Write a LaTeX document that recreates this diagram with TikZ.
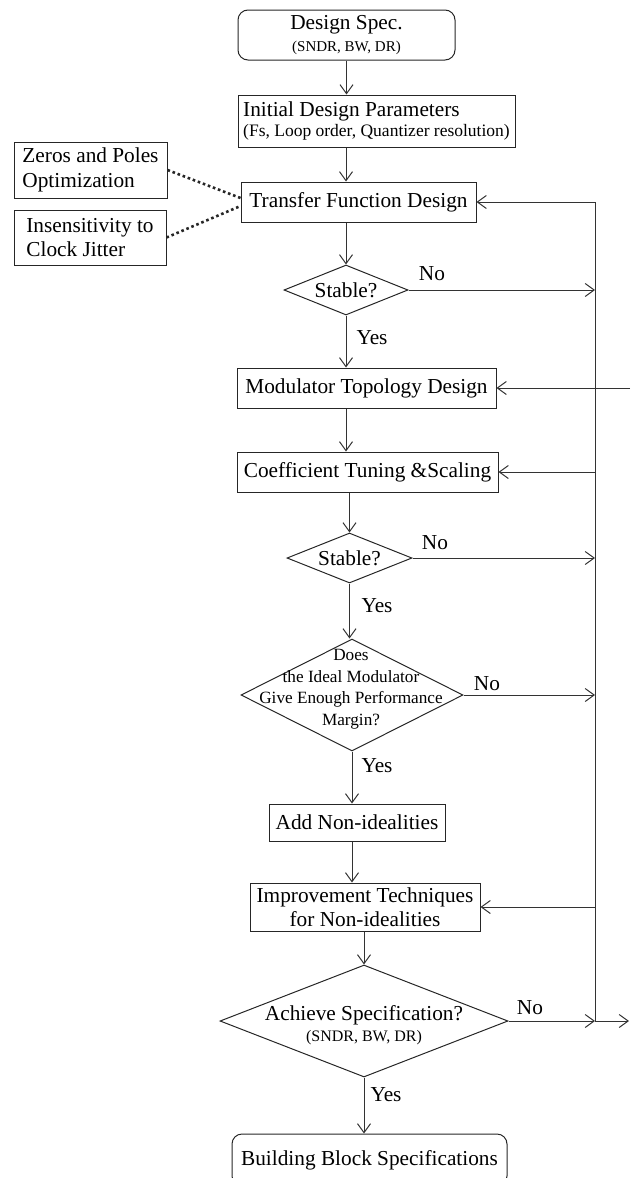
\documentclass[tikz,border=0pt]{standalone}
\usepackage{fontspec}
\setmainfont{Liberation Serif}
\usetikzlibrary{arrows.meta,shapes.geometric,calc}
\begin{document}
\begin{tikzpicture}[x=1pt,y=-1pt,
  every node/.style={font=\fontsize{21.3}{24.5}\selectfont, text=black},
  box/.style={draw=black!85, line width=1pt, inner sep=0pt, align=center},
  dia/.style={draw=black!85, line width=1pt, diamond, inner sep=0pt},
  conn/.style={draw=black!80, line width=1pt},
  arr/.style={conn, -{Straight Barb[length=9pt,width=13pt,line width=1pt]}},
  dots/.style={draw=black!85, line width=2.6pt, dash pattern=on 2.6pt off 2.8pt},
  lbl/.style={inner sep=0pt}
]
\useasboundingbox (0,0) rectangle (630,1178);
\clip (0,0) rectangle (630,1178);

% boxes
\node[box, rounded corners=10pt, minimum width=217pt, minimum height=50pt] (spec) at (346.5,35)
  {Design Spec.\\[-2pt]{\fontsize{15}{16}\selectfont (SNDR, BW, DR)}};
\node[box, minimum width=277pt, minimum height=52pt, align=left] (init) at (376.5,121)
  {Initial Design Parameters\\[-4pt]{\fontsize{17.5}{20}\selectfont (Fs, Loop order, Quantizer resolution)}};
\node[box, minimum width=235pt, minimum height=40pt] (tfd) at (358.5,202) {Transfer Function Design};
\node[box, minimum width=153pt, minimum height=56pt, align=left] (zp) at (90.5,170) {Zeros and Poles\\Optimization};
\node[box, minimum width=152pt, minimum height=55pt, align=left] (ins) at (90,237.5) {Insensitivity to\\Clock Jitter};

\node[dia, minimum width=124pt, minimum height=50pt] (s1) at (346,290) {};
\node[lbl] (s1t) at (s1.center) {Stable?};

\node[box, minimum width=259pt, minimum height=40pt] (mtd) at (366.5,388) {Modulator Topology Design};
\node[box, minimum width=261pt, minimum height=40pt] (cts) at (367.5,472) {Coefficient Tuning \&Scaling};

\node[dia, minimum width=125pt, minimum height=50pt] (s2) at (349.5,558) {};
\node[lbl] (s2t) at (s2.center) {Stable?};

\node[dia, minimum width=222pt, minimum height=112pt] (d3) at (352,695) {};
\node[lbl, align=center, font=\fontsize{17.2}{21.5}\selectfont] (d3t) at (351,689)
  {Does\\the Ideal Modulator\\Give Enough Performance\\Margin?};

\node[box, minimum width=176pt, minimum height=37pt] (add) at (357,822.5) {Add Non-idealities};
\node[box, minimum width=230pt, minimum height=48pt] (imp) at (365,907) {Improvement Techniques\\[-1pt]for Non-idealities};

\node[dia, minimum width=288pt, minimum height=112pt] (ach) at (364,1021) {};
\node[lbl, align=center] (acht) at (364,1025)
  {Achieve Specification?\\[-3pt]{\fontsize{16}{18}\selectfont (SNDR, BW, DR)}};

\node[box, rounded corners=10pt, minimum width=275pt, minimum height=52pt] (bbs) at (369.5,1160) {Building Block Specifications};

% feedback bus coordinates
\coordinate (rt) at (595,202);
\coordinate (rb) at (595,1021);
\coordinate (edgeA) at (630,388);
\coordinate (edgeB) at (629,1021);

% dotted links
\draw[dots] (zp.east) -- ([yshift=4pt]tfd.west);
\draw[dots] (ins.east) -- ([yshift=-4pt]tfd.west);

% main flow
\draw[arr] (spec.south) -- (spec.south |- init.north);
\draw[arr] (init.south -| s1.north) -- (tfd.north -| s1.north);
\draw[arr] (tfd.south -| s1.north) -- (s1.north);
\draw[arr] (s1.south) -- (s1.south |- mtd.north);
\draw[arr] (mtd.south -| s1.south) -- (cts.north -| s1.south);
\draw[arr] (cts.south -| s2.north) -- (s2.north);
\draw[arr] (s2.south) -- (s2.south |- d3.north);
\draw[arr] (d3.south) -- (d3.south |- add.north);
\draw[arr] (d3.south |- add.south) -- (d3.south |- imp.north);
\draw[arr] (imp.south -| ach.north) -- (ach.north);
\draw[arr] (ach.south) -- (ach.south |- bbs.north);

% feedback
\draw[conn] (rb) -- (rt);
\draw[arr] (rt) -- (tfd.east);
\draw[arr] (s1.east) -- (s1.east -| rt);
\draw[arr] (edgeA) -- (mtd.east);
\draw[arr] (cts.east -| rt) -- (cts.east);
\draw[arr] (s2.east) -- (s2.east -| rt);
\draw[arr] (d3.east) -- (d3.east -| rt);
\draw[arr] (imp.east -| rt) -- (imp.east);
\draw[arr] (ach.east) -- (rb);
\draw[arr] (rb) -- (edgeB);

% labels
\node[lbl] (no1) at (432,274) {No};
\node[lbl] (no2) at (435,543) {No};
\node[lbl] (no3) at (487,684) {No};
\node[lbl] (no4) at (530,1008) {No};
\node[lbl] (yes1) at (372,338) {Yes};
\node[lbl] (yes2) at (377,606) {Yes};
\node[lbl] (yes3) at (377,766) {Yes};
\node[lbl] (yes4) at (386,1095) {Yes};
\end{tikzpicture}
\end{document}
